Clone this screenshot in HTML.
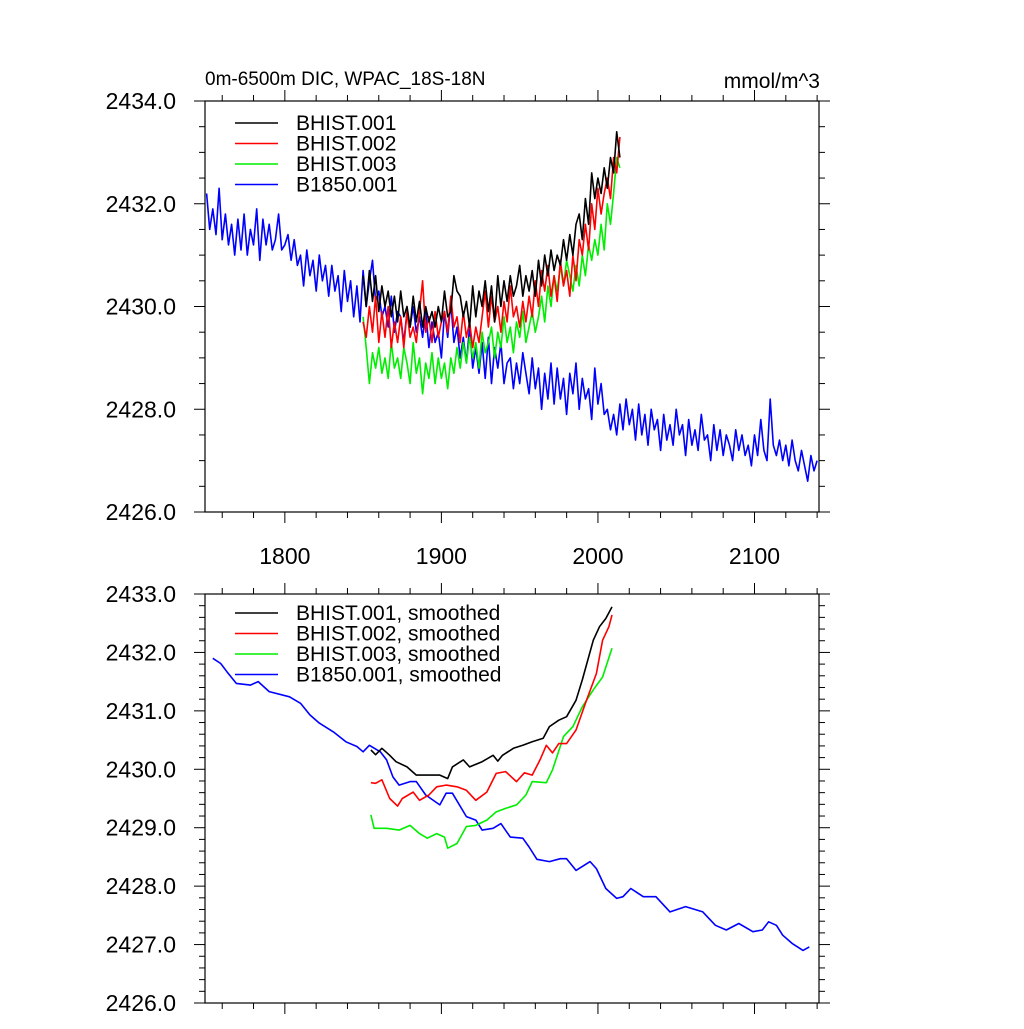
<!DOCTYPE html>
<html><head><meta charset="utf-8"><style>
body{margin:0;background:#fff;}
svg text{font-family:"Liberation Sans",sans-serif;fill:#000;}
</style></head><body>
<svg id="chart" width="1024" height="1024" xmlns="http://www.w3.org/2000/svg">
<rect width="1024" height="1024" fill="#fff"/>
<text x="205" y="85" font-size="19">0m-6500m DIC, WPAC_18S-18N</text>
<text x="820" y="88" font-size="21" text-anchor="end">mmol/m^3</text>
<g id="top"></g>
<g id="bot"></g>
</svg>
<script>
// ---- data ----
const blueYearStart = 1750, histYearStart = 1850, rawStep = 2;
const blueRaw = [
2432.2,2431.5,2431.9,2431.4,2432.3,2431.3,2431.8,2431.2,2431.6,2431.0,
2431.7,2431.1,2431.8,2431.0,2431.5,2431.2,2431.9,2430.9,2431.7,2431.2,
2431.6,2431.1,2431.3,2431.8,2431.1,2431.2,2431.4,2430.9,2431.3,2430.8,
2431.0,2430.4,2431.1,2430.6,2430.9,2430.3,2431.0,2430.5,2430.8,2430.2,
2430.8,2430.3,2430.6,2429.9,2430.7,2430.1,2430.5,2429.8,2430.4,2429.7,
2430.7,2430.0,2430.5,2430.9,2430.1,2430.3,2429.8,2430.0,2429.6,2430.2,
2429.5,2429.9,2429.8,2429.3,2429.9,2429.6,2430.0,2429.5,2429.8,2429.4,
2429.9,2429.2,2429.7,2429.3,2429.5,2429.0,2429.9,2429.4,2430.1,2429.3,
2429.6,2429.0,2429.4,2428.9,2429.6,2428.8,2429.2,2428.7,2429.3,2428.6,
2429.4,2428.5,2429.2,2428.8,2429.3,2428.5,2428.9,2429.0,2428.4,2428.9,
2428.5,2429.1,2428.7,2428.3,2429.0,2428.4,2428.8,2428.0,2428.7,2428.2,
2428.9,2428.1,2428.8,2428.2,2428.6,2427.9,2428.7,2428.3,2428.9,2428.0,
2428.6,2428.2,2428.4,2427.8,2428.8,2428.1,2428.5,2427.9,2428.0,2427.6,
2427.9,2427.5,2428.1,2427.6,2428.2,2427.7,2428.0,2427.4,2428.1,2427.5,
2427.9,2427.3,2428.0,2427.6,2427.8,2427.2,2427.9,2427.4,2427.7,2427.3,
2428.0,2427.5,2427.7,2427.1,2427.8,2427.3,2427.6,2427.2,2427.9,2427.4,
2427.5,2427.0,2427.7,2427.2,2427.6,2427.1,2427.5,2427.3,2427.0,2427.6,
2427.2,2427.5,2427.1,2427.3,2426.9,2427.5,2427.1,2427.8,2427.2,2427.0,
2428.2,2427.3,2427.1,2427.4,2427.0,2427.3,2426.9,2427.4,2427.0,2426.8,
2427.2,2426.9,2426.6,2427.1,2426.8,2427.0];
const blackRaw = [
2430.6,2430.0,2430.7,2430.1,2430.6,2429.9,2430.4,2430.0,2430.3,2429.8,
2430.2,2429.7,2430.3,2429.8,2430.0,2429.6,2430.2,2429.7,2430.1,2429.6,
2430.0,2429.7,2429.9,2429.6,2430.0,2429.7,2430.3,2429.8,2429.9,2430.6,
2430.3,2430.2,2429.8,2430.1,2429.6,2430.4,2429.8,2430.3,2430.0,2430.5,
2429.9,2430.4,2429.7,2430.6,2430.0,2430.5,2430.1,2430.6,2430.2,2430.4,
2430.8,2430.2,2430.6,2430.3,2430.7,2430.2,2430.9,2430.4,2431.0,2430.6,
2431.1,2430.7,2431.0,2430.8,2431.3,2430.9,2431.4,2431.0,2431.6,2431.8,
2431.3,2432.1,2431.6,2432.6,2432.1,2432.5,2432.2,2432.7,2432.3,2432.9,
2432.6,2433.4,2432.9];
const redRaw = [
2429.7,2429.4,2430.0,2429.5,2430.2,2429.3,2429.9,2429.4,2430.0,2429.2,
2429.7,2429.3,2429.8,2429.2,2429.9,2429.4,2429.6,2429.3,2429.9,2430.5,
2429.5,2429.8,2429.3,2429.9,2429.4,2429.7,2429.9,2429.5,2430.2,2429.6,
2429.8,2429.3,2429.9,2429.4,2429.7,2429.2,2429.6,2429.3,2429.8,2430.3,
2429.6,2430.2,2429.7,2430.0,2429.5,2430.1,2429.7,2430.4,2429.8,2430.0,
2429.6,2430.1,2429.7,2430.2,2429.8,2430.5,2430.0,2430.7,2430.3,2430.8,
2430.2,2430.6,2430.1,2430.9,2430.4,2430.7,2430.2,2431.0,2430.5,2431.3,
2431.0,2431.6,2431.1,2432.0,2431.5,2432.3,2431.8,2432.2,2432.5,2432.1,
2432.9,2432.6,2433.3];
const greenRaw = [
2429.8,2429.2,2428.5,2429.1,2428.8,2429.2,2428.7,2429.0,2428.6,2429.3,
2428.8,2429.0,2428.6,2429.2,2428.9,2428.5,2429.3,2428.7,2429.0,2428.3,
2428.9,2428.6,2429.1,2428.5,2429.0,2428.6,2428.9,2428.4,2429.0,2428.7,
2429.2,2428.8,2429.3,2428.9,2429.4,2429.0,2429.3,2428.8,2429.5,2429.1,
2429.3,2429.6,2429.0,2429.5,2429.2,2429.8,2429.3,2429.6,2429.1,2429.7,
2429.4,2429.9,2429.3,2429.6,2429.9,2429.5,2429.8,2430.2,2429.7,2430.4,
2430.0,2430.6,2430.3,2430.8,2430.4,2430.9,2430.6,2430.3,2430.8,2430.4,
2431.0,2430.6,2431.2,2430.9,2431.3,2431.0,2431.6,2431.1,2432.0,2431.6,
2432.2,2432.9,2432.7];
const blueSmYears = [1754,1759,1763,1769,1778,1783,1790,1803,1810,1816,1822,1831,1839,1846,1850,1854,1861,1865,1869,1873,1880,1884,1890,1899,1903,1907,1916,1922,1926,1933,1938,1944,1952,1956,1961,1969,1976,1980,1986,1995,1999,2005,2012,2016,2021,2029,2037,2046,2056,2067,2075,2082,2090,2099,2105,2109,2114,2118,2124,2131,2135];
const blueSm = [2431.90,2431.81,2431.67,2431.47,2431.44,2431.50,2431.33,2431.24,2431.13,2430.93,2430.79,2430.64,2430.47,2430.39,2430.30,2430.41,2430.30,2430.16,2429.87,2429.73,2429.79,2429.79,2429.56,2429.39,2429.59,2429.59,2429.19,2429.13,2428.96,2428.99,2429.07,2428.84,2428.82,2428.67,2428.46,2428.42,2428.47,2428.47,2428.27,2428.42,2428.30,2427.96,2427.79,2427.82,2427.96,2427.82,2427.82,2427.56,2427.65,2427.56,2427.33,2427.25,2427.36,2427.22,2427.25,2427.39,2427.33,2427.16,2427.02,2426.90,2426.96];
const blackSmYears = [1855,1858,1862,1867,1871,1878,1884,1892,1899,1904,1907,1914,1918,1926,1933,1936,1939,1946,1952,1958,1965,1969,1975,1980,1986,1990,1997,2001,2005,2009];
const blackSm = [2430.33,2430.25,2430.36,2430.24,2430.13,2430.04,2429.90,2429.90,2429.90,2429.84,2430.04,2430.16,2430.04,2430.13,2430.24,2430.14,2430.24,2430.36,2430.41,2430.47,2430.53,2430.73,2430.84,2430.90,2431.18,2431.53,2432.21,2432.44,2432.58,2432.78];
const redSmYears = [1855,1858,1862,1867,1872,1875,1882,1886,1892,1897,1903,1910,1916,1922,1929,1935,1941,1948,1953,1958,1963,1967,1971,1975,1980,1986,1992,1999,2003,2007,2009];
const redSm = [2429.77,2429.76,2429.82,2429.50,2429.37,2429.50,2429.61,2429.47,2429.56,2429.70,2429.73,2429.70,2429.64,2429.47,2429.61,2429.93,2429.96,2429.79,2429.94,2429.90,2430.16,2430.41,2430.28,2430.44,2430.44,2430.67,2431.13,2431.64,2432.21,2432.44,2432.64];
const greenSmYears = [1855,1857,1865,1873,1880,1886,1891,1897,1902,1904,1910,1916,1922,1929,1935,1941,1948,1954,1958,1967,1971,1978,1984,1990,1997,2003,2009];
const greenSm = [2429.22,2428.99,2428.99,2428.96,2429.04,2428.90,2428.82,2428.90,2428.84,2428.65,2428.73,2429.02,2429.04,2429.13,2429.27,2429.33,2429.39,2429.56,2429.79,2429.77,2429.99,2430.56,2430.73,2431.07,2431.36,2431.58,2432.07];
const xTickYears = [1800,1900,2000,2100];
const topYTicks = [2426,2428,2430,2432,2434];
const botYTicks = [2426,2427,2428,2429,2430,2431,2432,2433];
const topLegend = ["BHIST.001","BHIST.002","BHIST.003","B1850.001"];
const botLegend = ["BHIST.001, smoothed","BHIST.002, smoothed","BHIST.003, smoothed","B1850.001, smoothed"];
const colors = ["#000000","#ff0000","#00ee00","#0000ff"];

// ---- layout ----
const NS="http://www.w3.org/2000/svg";
const L=205,R=819,xMin=1749,xMax=2141.2;
const xs = y => L + (y-xMin)/(xMax-xMin)*(R-L);
function mk(parent,tag,attrs){const e=document.createElementNS(NS,tag);for(const k in attrs)e.setAttribute(k,attrs[k]);parent.appendChild(e);return e;}

function panel(g,T,B,yMin,yMax,yTicks,minorStep,showXLabels,series,legend,legY){
  const ys=v=>B-(v-yMin)/(yMax-yMin)*(B-T);
  const fr=mk(g,'rect',{x:L,y:T,width:R-L,height:B-T,fill:'none',stroke:'#000','stroke-width':1.2});
  
  
  for(let v=yMin;v<=yMax+1e-6;v+=minorStep){
    const isMaj=yTicks.some(t=>Math.abs(t-v)<1e-6);const len=isMaj?11:6;const y=ys(v);
    mk(g,'line',{x1:L-len,x2:L,y1:y,y2:y,stroke:'#000','stroke-width':1});
    mk(g,'line',{x1:R,x2:R+len,y1:y,y2:y,stroke:'#000','stroke-width':1});
  }
  yTicks.forEach(t=>{
    const tx=mk(g,'text',{x:176,y:ys(t)+8,'font-size':23,'text-anchor':'end'});
    tx.textContent=t.toFixed(1);
    
    
  });
  for(let yr=1760;yr<=2140;yr+=20){
    const isMaj=yr%100===0;const len=isMaj?11:6;const x=xs(yr);
    mk(g,'line',{x1:x,x2:x,y1:B,y2:B+len,stroke:'#000','stroke-width':1});
    mk(g,'line',{x1:x,x2:x,y1:T-len,y2:T,stroke:'#000','stroke-width':1});
  }
  if(showXLabels) xTickYears.forEach(yr=>{
    const tx=mk(g,'text',{x:xs(yr),y:B+52,'font-size':23,'text-anchor':'middle'});
    tx.textContent=yr;
    
    
  });
  series.forEach(s=>{
    const pts=s.vals.map((v,j)=>xs(s.years[j]).toFixed(1)+','+ys(v).toFixed(1)).join(' ');
    const pl=mk(g,'polyline',{points:pts,fill:'none',stroke:s.color,'stroke-width':1.6,'stroke-linejoin':'round'});
    
    
  });
  legend.forEach((lab,i)=>{
    const y=legY+i*20.5;
    const ln=mk(g,'line',{x1:235,x2:278,y1:y,y2:y,stroke:colors[i],'stroke-width':1.6});
    
    
    const tx=mk(g,'text',{x:296,y:y+7,'font-size':21});
    tx.textContent=lab;
    
    
  });
}
const rawYears=(start,n)=>Array.from({length:n},(_,i)=>start+i*rawStep);
const topSeries=[
 {name:'b1850',color:colors[3],years:rawYears(blueYearStart,blueRaw.length),vals:blueRaw},
 {name:'bhist003',color:colors[2],years:rawYears(histYearStart,greenRaw.length),vals:greenRaw},
 {name:'bhist002',color:colors[1],years:rawYears(histYearStart,redRaw.length),vals:redRaw},
 {name:'bhist001',color:colors[0],years:rawYears(histYearStart,blackRaw.length),vals:blackRaw}];
const botSeries=[
 {name:'b1850-smoothed',color:colors[3],years:blueSmYears,vals:blueSm},
 {name:'bhist003-smoothed',color:colors[2],years:greenSmYears,vals:greenSm},
 {name:'bhist002-smoothed',color:colors[1],years:redSmYears,vals:redSm},
 {name:'bhist001-smoothed',color:colors[0],years:blackSmYears,vals:blackSm}];
panel(document.getElementById('top'),101,512,2426,2434,topYTicks,0.5,true,topSeries,topLegend,123);
panel(document.getElementById('bot'),594,1003,2426,2433,botYTicks,0.2,false,botSeries,botLegend,613);
</script>
</body></html>
